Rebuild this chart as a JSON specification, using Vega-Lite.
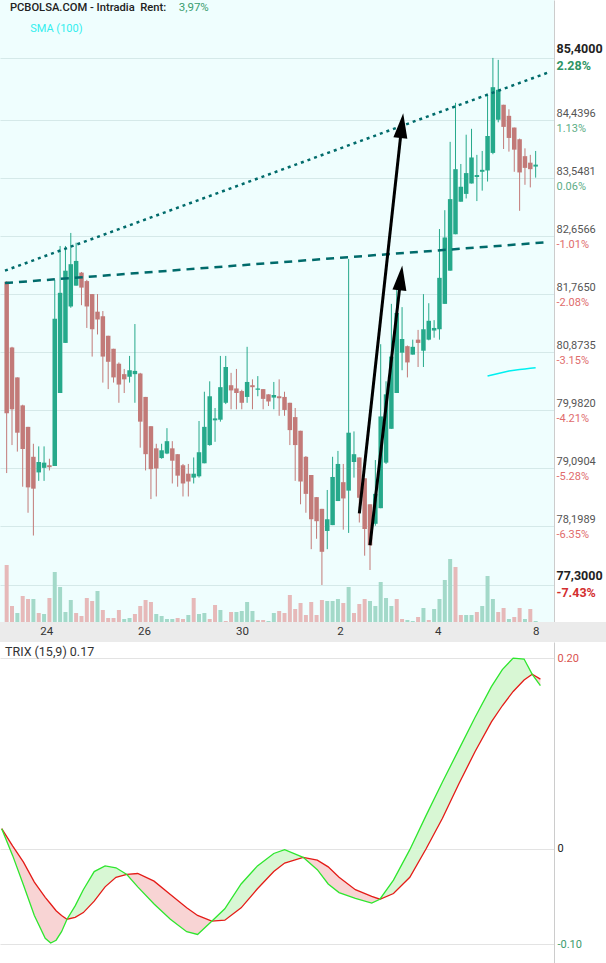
{
"$schema": "https://vega.github.io/schema/vega-lite/v6.json",
"padding": 0,
"spacing": 0,
"background": "white",
"config": {"view": {"stroke": null}, "font": "Roboto"},
"resolve": {"scale": {"x": "independent", "y": "independent"}},
"datasets": {
"candles": [
{"i":0,"o":81.96,"h":81.97,"l":79.02,"c":79.94,"v":57,"vc":"d"},
{"i":1,"o":80.95,"h":80.96,"l":79.45,"c":80.00,"v":16,"vc":"d"},
{"i":2,"o":80.49,"h":80.49,"l":79.35,"c":79.64,"v":9,"vc":"u"},
{"i":3,"o":80.06,"h":80.07,"l":78.81,"c":79.39,"v":26,"vc":"d"},
{"i":4,"o":79.73,"h":79.73,"l":78.41,"c":78.80,"v":23,"vc":"d"},
{"i":5,"o":79.27,"h":79.47,"l":78.06,"c":78.78,"v":23,"vc":"u"},
{"i":6,"o":79.03,"h":79.43,"l":78.90,"c":79.19,"v":9,"vc":"d"},
{"i":7,"o":79.10,"h":79.43,"l":78.90,"c":79.18,"v":8,"vc":"u"},
{"i":8,"o":79.14,"h":79.24,"l":79.06,"c":79.11,"v":24,"vc":"d"},
{"i":9,"o":79.13,"h":81.99,"l":79.13,"c":81.39,"v":50,"vc":"u"},
{"i":10,"o":80.25,"h":82.51,"l":80.25,"c":81.79,"v":35,"vc":"u"},
{"i":11,"o":81.02,"h":82.51,"l":81.02,"c":82.13,"v":10,"vc":"u"},
{"i":12,"o":81.58,"h":82.71,"l":81.56,"c":82.23,"v":22,"vc":"u"},
{"i":13,"o":81.90,"h":82.56,"l":81.90,"c":82.28,"v":9,"vc":"d"},
{"i":14,"o":82.10,"h":82.11,"l":81.60,"c":81.87,"v":6,"vc":"d"},
{"i":15,"o":81.97,"h":81.99,"l":81.25,"c":81.58,"v":24,"vc":"d"},
{"i":16,"o":81.77,"h":81.77,"l":80.81,"c":81.23,"v":21,"vc":"d"},
{"i":17,"o":81.50,"h":81.77,"l":81.15,"c":81.38,"v":31,"vc":"u"},
{"i":18,"o":81.43,"h":81.51,"l":80.41,"c":80.81,"v":12,"vc":"d"},
{"i":19,"o":81.13,"h":81.13,"l":80.31,"c":80.73,"v":4,"vc":"d"},
{"i":20,"o":80.93,"h":80.93,"l":80.41,"c":80.49,"v":4,"vc":"d"},
{"i":21,"o":80.70,"h":80.72,"l":80.10,"c":80.38,"v":12,"vc":"d"},
{"i":22,"o":80.54,"h":80.62,"l":80.25,"c":80.46,"v":3,"vc":"u"},
{"i":23,"o":80.50,"h":80.82,"l":80.41,"c":80.60,"v":4,"vc":"u"},
{"i":24,"o":80.54,"h":81.31,"l":80.10,"c":80.59,"v":8,"vc":"d"},
{"i":25,"o":80.55,"h":80.56,"l":79.41,"c":79.81,"v":16,"vc":"d"},
{"i":26,"o":80.19,"h":80.19,"l":79.06,"c":79.31,"v":22,"vc":"d"},
{"i":27,"o":79.74,"h":79.74,"l":78.62,"c":79.08,"v":20,"vc":"d"},
{"i":28,"o":79.40,"h":79.47,"l":78.66,"c":79.09,"v":8,"vc":"u"},
{"i":29,"o":79.25,"h":79.47,"l":79.24,"c":79.37,"v":6,"vc":"u"},
{"i":30,"o":79.32,"h":79.71,"l":79.31,"c":79.51,"v":3,"vc":"u"},
{"i":31,"o":79.40,"h":79.51,"l":78.86,"c":79.21,"v":3,"vc":"u"},
{"i":32,"o":79.31,"h":79.31,"l":78.81,"c":78.98,"v":4,"vc":"d"},
{"i":33,"o":79.14,"h":79.16,"l":78.66,"c":78.86,"v":3,"vc":"d"},
{"i":34,"o":79.01,"h":79.16,"l":78.66,"c":78.89,"v":7,"vc":"u"},
{"i":35,"o":78.95,"h":79.26,"l":78.86,"c":79.01,"v":24,"vc":"d"},
{"i":36,"o":78.97,"h":79.82,"l":78.95,"c":79.34,"v":8,"vc":"u"},
{"i":37,"o":79.17,"h":80.27,"l":79.17,"c":79.73,"v":9,"vc":"u"},
{"i":38,"o":79.45,"h":80.43,"l":79.44,"c":80.20,"v":3,"vc":"d"},
{"i":39,"o":79.83,"h":80.02,"l":79.50,"c":79.86,"v":17,"vc":"d"},
{"i":40,"o":79.84,"h":80.82,"l":79.81,"c":80.34,"v":12,"vc":"u"},
{"i":41,"o":80.10,"h":80.82,"l":80.08,"c":80.65,"v":1,"vc":"d"},
{"i":42,"o":80.37,"h":80.56,"l":80.00,"c":80.29,"v":10,"vc":"d"},
{"i":43,"o":80.32,"h":80.62,"l":80.00,"c":80.25,"v":10,"vc":"u"},
{"i":44,"o":80.28,"h":80.30,"l":80.00,"c":80.10,"v":11,"vc":"u"},
{"i":45,"o":80.19,"h":80.96,"l":80.10,"c":80.42,"v":20,"vc":"u"},
{"i":46,"o":80.37,"h":80.46,"l":80.00,"c":80.34,"v":11,"vc":"u"},
{"i":47,"o":80.30,"h":80.51,"l":80.20,"c":80.32,"v":2,"vc":"d"},
{"i":48,"o":80.31,"h":80.31,"l":80.00,"c":80.16,"v":2,"vc":"d"},
{"i":49,"o":80.23,"h":80.23,"l":80.05,"c":80.12,"v":1,"vc":"u"},
{"i":50,"o":80.18,"h":80.42,"l":80.00,"c":80.22,"v":9,"vc":"u"},
{"i":51,"o":80.20,"h":80.46,"l":79.90,"c":80.17,"v":11,"vc":"d"},
{"i":52,"o":80.19,"h":80.27,"l":79.90,"c":79.99,"v":9,"vc":"d"},
{"i":53,"o":80.10,"h":80.10,"l":79.45,"c":79.68,"v":27,"vc":"d"},
{"i":54,"o":79.88,"h":80.02,"l":78.90,"c":79.45,"v":13,"vc":"d"},
{"i":55,"o":79.67,"h":79.67,"l":78.54,"c":78.89,"v":19,"vc":"d"},
{"i":56,"o":79.27,"h":79.28,"l":78.41,"c":78.70,"v":7,"vc":"d"},
{"i":57,"o":78.99,"h":78.99,"l":77.85,"c":78.31,"v":20,"vc":"d"},
{"i":58,"o":78.65,"h":78.65,"l":78.01,"c":78.28,"v":7,"vc":"d"},
{"i":59,"o":78.47,"h":78.47,"l":77.30,"c":77.81,"v":22,"vc":"d"},
{"i":60,"o":78.13,"h":78.76,"l":77.85,"c":78.31,"v":21,"vc":"u"},
{"i":61,"o":78.22,"h":79.27,"l":78.22,"c":78.96,"v":21,"vc":"u"},
{"i":62,"o":78.59,"h":79.36,"l":78.59,"c":79.16,"v":23,"vc":"u"},
{"i":63,"o":78.88,"h":79.16,"l":78.15,"c":78.63,"v":19,"vc":"d"},
{"i":64,"o":78.75,"h":82.31,"l":78.10,"c":79.64,"v":35,"vc":"u"},
{"i":65,"o":79.19,"h":79.66,"l":78.95,"c":79.31,"v":9,"vc":"d"},
{"i":66,"o":79.26,"h":79.26,"l":78.26,"c":78.64,"v":18,"vc":"d"},
{"i":67,"o":78.94,"h":78.94,"l":77.75,"c":78.16,"v":23,"vc":"d"},
{"i":68,"o":78.54,"h":78.54,"l":77.53,"c":77.91,"v":21,"vc":"u"},
{"i":69,"o":78.24,"h":79.22,"l":78.21,"c":78.70,"v":16,"vc":"u"},
{"i":70,"o":78.48,"h":81.00,"l":78.48,"c":79.89,"v":40,"vc":"u"},
{"i":71,"o":79.18,"h":80.43,"l":79.16,"c":80.23,"v":24,"vc":"u"},
{"i":72,"o":79.70,"h":81.62,"l":79.70,"c":80.81,"v":16,"vc":"u"},
{"i":73,"o":80.25,"h":81.85,"l":80.25,"c":81.48,"v":23,"vc":"d"},
{"i":74,"o":80.87,"h":81.57,"l":80.60,"c":81.08,"v":3,"vc":"d"},
{"i":75,"o":80.97,"h":80.98,"l":80.49,"c":80.72,"v":2,"vc":"u"},
{"i":76,"o":80.84,"h":81.07,"l":80.84,"c":80.96,"v":1,"vc":"u"},
{"i":77,"o":81.07,"h":81.22,"l":80.65,"c":81.02,"v":5,"vc":"d"},
{"i":78,"o":80.90,"h":81.77,"l":80.65,"c":81.23,"v":14,"vc":"u"},
{"i":79,"o":81.07,"h":81.63,"l":81.06,"c":81.36,"v":2,"vc":"d"},
{"i":80,"o":81.21,"h":81.37,"l":81.10,"c":81.25,"v":13,"vc":"u"},
{"i":81,"o":81.23,"h":82.77,"l":81.07,"c":82.02,"v":23,"vc":"u"},
{"i":82,"o":81.62,"h":83.06,"l":81.62,"c":82.64,"v":42,"vc":"u"},
{"i":83,"o":82.13,"h":84.11,"l":82.13,"c":83.23,"v":63,"vc":"u"},
{"i":84,"o":82.69,"h":84.71,"l":82.69,"c":83.69,"v":55,"vc":"d"},
{"i":85,"o":83.19,"h":83.77,"l":83.19,"c":83.42,"v":7,"vc":"d"},
{"i":86,"o":83.31,"h":84.22,"l":83.24,"c":83.63,"v":7,"vc":"u"},
{"i":87,"o":83.47,"h":84.31,"l":83.47,"c":83.87,"v":7,"vc":"u"},
{"i":88,"o":83.57,"h":83.91,"l":83.20,"c":83.60,"v":10,"vc":"d"},
{"i":89,"o":83.65,"h":83.97,"l":83.36,"c":83.68,"v":16,"vc":"u"},
{"i":90,"o":83.67,"h":84.83,"l":83.50,"c":84.20,"v":46,"vc":"u"},
{"i":91,"o":83.94,"h":85.40,"l":83.92,"c":84.95,"v":23,"vc":"u"},
{"i":92,"o":84.45,"h":85.37,"l":84.41,"c":84.91,"v":10,"vc":"d"},
{"i":93,"o":84.68,"h":84.68,"l":84.00,"c":84.34,"v":14,"vc":"d"},
{"i":94,"o":84.51,"h":84.61,"l":83.96,"c":84.17,"v":3,"vc":"u"},
{"i":95,"o":84.33,"h":84.33,"l":83.65,"c":83.99,"v":5,"vc":"d"},
{"i":96,"o":84.15,"h":84.16,"l":83.05,"c":83.64,"v":14,"vc":"d"},
{"i":97,"o":83.89,"h":84.01,"l":83.45,"c":83.71,"v":3,"vc":"u"},
{"i":98,"o":83.79,"h":83.91,"l":83.41,"c":83.69,"v":13,"vc":"d"},
{"i":99,"o":83.73,"h":83.97,"l":83.56,"c":83.76,"v":1,"vc":"u"}
],
"trend": [
{"ln":"dot","i":-0.3125,"p":82.13},{"ln":"dot","i":101.5,"p":85.18},
{"ln":"dash","i":-0.3125,"p":81.94},{"ln":"dash","i":101.5,"p":82.57}
],
"arrows": [
{"a":"A","i":66.0,"p":78.40},{"a":"A","i":73.95,"p":84.36},
{"a":"B","i":68.0,"p":77.91},{"a":"B","i":73.77,"p":82.02}
],
"heads": [
{"a":"A","i":73.95,"p":84.36},{"a":"B","i":73.77,"p":82.02}
],
"sma": [
{"i":90,"p":80.51},{"i":91,"p":80.53},{"i":92,"p":80.55},{"i":93,"p":80.57},{"i":94,"p":80.59},
{"i":95,"p":80.60},{"i":96,"p":80.61},{"i":97,"p":80.62},{"i":98,"p":80.63},{"i":99,"p":80.64}
],
"dates": [
{"i":9,"d":"24"},{"i":27,"d":"26"},{"i":45,"d":"30"},{"i":63,"d":"2"},{"i":81,"d":"4"},{"i":99,"d":"8"}
],
"trix": [
{"i":0,"t":0.021,"s":0.021,"seg":1,"k":"r"},
{"i":2,"t":-0.007,"s":0.003,"seg":1,"k":"r"},
{"i":4,"t":-0.038,"s":-0.014,"seg":1,"k":"r"},
{"i":6,"t":-0.070,"s":-0.035,"seg":1,"k":"r"},
{"i":8,"t":-0.094,"s":-0.051,"seg":1,"k":"r"},
{"i":9,"t":-0.099,"s":-0.058,"seg":1,"k":"r"},
{"i":10,"t":-0.096,"s":-0.065,"seg":1,"k":"r"},
{"i":11,"t":-0.087,"s":-0.070,"seg":1,"k":"r"},
{"i":12,"t":-0.074,"s":-0.074,"seg":1,"k":"r"},
{"i":12,"t":-0.074,"s":-0.074,"seg":2,"k":"g"},
{"i":13.5,"t":-0.060,"s":-0.072,"seg":2,"k":"g"},
{"i":15,"t":-0.043,"s":-0.067,"seg":2,"k":"g"},
{"i":17,"t":-0.024,"s":-0.055,"seg":2,"k":"g"},
{"i":19,"t":-0.018,"s":-0.040,"seg":2,"k":"g"},
{"i":21,"t":-0.020,"s":-0.030,"seg":2,"k":"g"},
{"i":23,"t":-0.027,"s":-0.027,"seg":2,"k":"g"},
{"i":23,"t":-0.027,"s":-0.027,"seg":3,"k":"r"},
{"i":25,"t":-0.040,"s":-0.026,"seg":3,"k":"r"},
{"i":28,"t":-0.058,"s":-0.034,"seg":3,"k":"r"},
{"i":31,"t":-0.074,"s":-0.048,"seg":3,"k":"r"},
{"i":34,"t":-0.087,"s":-0.062,"seg":3,"k":"r"},
{"i":36,"t":-0.090,"s":-0.070,"seg":3,"k":"r"},
{"i":38.6,"t":-0.076,"s":-0.076,"seg":3,"k":"r"},
{"i":38.6,"t":-0.076,"s":-0.076,"seg":4,"k":"g"},
{"i":41,"t":-0.063,"s":-0.075,"seg":4,"k":"g"},
{"i":44,"t":-0.037,"s":-0.062,"seg":4,"k":"g"},
{"i":47,"t":-0.018,"s":-0.042,"seg":4,"k":"g"},
{"i":50,"t":-0.005,"s":-0.024,"seg":4,"k":"g"},
{"i":52,"t":-0.001,"s":-0.015,"seg":4,"k":"g"},
{"i":55.4,"t":-0.009,"s":-0.009,"seg":4,"k":"g"},
{"i":55.4,"t":-0.009,"s":-0.009,"seg":5,"k":"r"},
{"i":58,"t":-0.022,"s":-0.012,"seg":5,"k":"r"},
{"i":60,"t":-0.037,"s":-0.019,"seg":5,"k":"r"},
{"i":62,"t":-0.046,"s":-0.030,"seg":5,"k":"r"},
{"i":65,"t":-0.052,"s":-0.043,"seg":5,"k":"r"},
{"i":68,"t":-0.057,"s":-0.050,"seg":5,"k":"r"},
{"i":69.5,"t":-0.053,"s":-0.053,"seg":5,"k":"r"},
{"i":69.5,"t":-0.053,"s":-0.053,"seg":6,"k":"g"},
{"i":72,"t":-0.033,"s":-0.047,"seg":6,"k":"g"},
{"i":75,"t":-0.001,"s":-0.030,"seg":6,"k":"g"},
{"i":78,"t":0.035,"s":0.000,"seg":6,"k":"g"},
{"i":81,"t":0.070,"s":0.032,"seg":6,"k":"g"},
{"i":84,"t":0.104,"s":0.068,"seg":6,"k":"g"},
{"i":87,"t":0.138,"s":0.102,"seg":6,"k":"g"},
{"i":90,"t":0.170,"s":0.133,"seg":6,"k":"g"},
{"i":92,"t":0.188,"s":0.150,"seg":6,"k":"g"},
{"i":94,"t":0.200,"s":0.165,"seg":6,"k":"g"},
{"i":96,"t":0.199,"s":0.177,"seg":6,"k":"g"},
{"i":97.5,"t":0.183,"s":0.183,"seg":6,"k":"g"},
{"i":97.5,"t":0.183,"s":0.183,"seg":7,"k":"r"},
{"i":99,"t":0.171,"s":0.178,"seg":7,"k":"r"}
]
},
"vconcat": [
{
"width": 554, "height": 622,
"view": {"fill": "#effefe", "stroke": null},
"resolve": {"scale": {"y": "independent"}, "axis": {"y": "independent"}},
"layer": [
{"data": {"name": "candles"},
 "mark": {"type": "bar", "width": 4, "clip": true},
 "encoding": {
  "x": {"field": "i", "type": "quantitative", "scale": {"domain": [-0.3125, 101.5], "nice": false, "zero": false},
        "axis": {"values": [9, 27, 45, 63, 81, 99], "labels": false, "ticks": false, "domain": false, "grid": true, "gridColor": "#d5e9e9", "title": null}},
  "y": {"field": "v", "type": "quantitative", "scale": {"domain": [0, 622], "nice": false}, "axis": null},
  "color": {"condition": {"test": "datum.vc == 'u'", "value": "#a3d9c9"}, "value": "#e6b9b9"}
 }},
{"data": {"name": "candles"},
 "mark": {"type": "rule", "strokeWidth": 1, "clip": true},
 "encoding": {
  "x": {"field": "i", "type": "quantitative", "axis": null},
  "y": {"field": "l", "type": "quantitative", "scale": {"domain": [76.731, 86.29], "nice": false, "zero": false},
        "axis": {"orient": "right", "values": [77.3, 78.1989, 79.0904, 79.982, 80.8735, 81.765, 82.6566, 83.5481, 84.4396, 85.4],
                 "labelExpr": "replace(format(datum.value, '.4f'), '.', ',')",
                 "labelBaseline": "bottom", "labelOffset": -2, "labelPadding": 2, "labelAlign": "left",
                 "labelFontSize": {"condition": {"test": "datum.value > 85.39 || datum.value < 77.31", "value": 12.5}, "value": 11},
                 "labelFontWeight": {"condition": {"test": "datum.value > 85.39 || datum.value < 77.31", "value": "bold"}, "value": "normal"},
                 "labelColor": {"condition": {"test": "datum.value > 85.39 || datum.value < 77.31", "value": "#222222"}, "value": "#555555"},
                 "labelOverlap": false, "ticks": false, "domain": true, "domainColor": "#cccccc", "grid": true, "gridColor": "#d5e9e9", "title": null}},
  "y2": {"field": "h"},
  "color": {"condition": {"test": "datum.c >= datum.o", "value": "#26a98b"}, "value": "#c27a78"}
 }},
{"data": {"name": "candles"},
 "mark": {"type": "bar", "width": 4.5, "clip": true},
 "encoding": {
  "x": {"field": "i", "type": "quantitative", "axis": null},
  "y": {"field": "o", "type": "quantitative", "scale": {"domain": [76.731, 86.29], "nice": false, "zero": false},
        "axis": {"orient": "right", "values": [83.5481, 84.4396, 85.4],
                 "labelExpr": "format((datum.value / 83.5 - 1) * 100, '.2f') + '%'",
                 "labelBaseline": "top", "labelOffset": 2, "labelPadding": 2, "labelAlign": "left",
                 "labelFontSize": {"condition": {"test": "datum.value > 85.39", "value": 12.5}, "value": 11},
                 "labelFontWeight": {"condition": {"test": "datum.value > 85.39", "value": "bold"}, "value": "normal"},
                 "labelColor": {"condition": {"test": "datum.value > 85.39", "value": "#2e9465"}, "value": "#5cad86"},
                 "labelOverlap": false, "ticks": false, "domain": false, "grid": false, "title": null}},
  "y2": {"field": "c"},
  "color": {"condition": {"test": "datum.c >= datum.o", "value": "#26a98b"}, "value": "#c27a78"}
 }},
{"data": {"name": "trend"},
 "transform": [{"filter": "datum.ln == 'dot'"}],
 "mark": {"type": "line", "color": "#006b6b", "strokeWidth": 2.5, "strokeDash": [3, 4], "clip": true},
 "encoding": {
  "x": {"field": "i", "type": "quantitative", "axis": null},
  "y": {"field": "p", "type": "quantitative", "scale": {"domain": [76.731, 86.29], "nice": false, "zero": false}, "axis": null}
 }},
{"data": {"name": "trend"},
 "transform": [{"filter": "datum.ln == 'dash'"}],
 "mark": {"type": "line", "color": "#006b6b", "strokeWidth": 2.5, "strokeDash": [8, 6], "clip": true},
 "encoding": {
  "x": {"field": "i", "type": "quantitative", "axis": null},
  "y": {"field": "p", "type": "quantitative", "scale": {"domain": [76.731, 86.29], "nice": false, "zero": false}, "axis": null}
 }},
{"data": {"name": "sma"},
 "mark": {"type": "line", "color": "#00f0f0", "strokeWidth": 1.5},
 "encoding": {
  "x": {"field": "i", "type": "quantitative", "axis": null},
  "y": {"field": "p", "type": "quantitative", "scale": {"domain": [76.731, 86.29], "nice": false, "zero": false},
        "axis": {"orient": "right", "values": [77.3, 78.1989, 79.0904, 79.982, 80.8735, 81.765, 82.6566],
                 "labelExpr": "replace(format((datum.value / 83.5 - 1) * 100, '.2f'), '\u2212', '-') + '%'",
                 "labelBaseline": "top", "labelOffset": 2, "labelPadding": 2, "labelAlign": "left",
                 "labelFontSize": {"condition": {"test": "datum.value < 77.31", "value": 12.5}, "value": 11},
                 "labelFontWeight": {"condition": {"test": "datum.value < 77.31", "value": "bold"}, "value": "normal"},
                 "labelColor": {"condition": {"test": "datum.value < 77.31", "value": "#d32f2f"}, "value": "#e06c6c"},
                 "labelOverlap": false, "ticks": false, "domain": false, "grid": false, "title": null}}
 }},
{"data": {"name": "arrows"},
 "mark": {"type": "line", "color": "black", "strokeWidth": 3},
 "encoding": {
  "x": {"field": "i", "type": "quantitative", "axis": null},
  "y": {"field": "p", "type": "quantitative", "scale": {"domain": [76.731, 86.29], "nice": false, "zero": false}, "axis": null},
  "detail": {"field": "a"}
 }},
{"data": {"name": "heads"},
 "mark": {"type": "point", "shape": "M0,-1L0.56,1L-0.56,1Z", "filled": true, "size": 625, "angle": 6.5, "color": "black", "opacity": 1, "strokeWidth": 0},
 "encoding": {
  "x": {"field": "i", "type": "quantitative", "axis": null},
  "y": {"field": "p", "type": "quantitative", "scale": {"domain": [76.731, 86.29], "nice": false, "zero": false}, "axis": null}
 }},
{"data": {"values": [{}]},
 "mark": {"type": "text", "align": "left", "baseline": "middle", "fontSize": 11.2, "fontWeight": 500, "color": "#222222"},
 "encoding": {
  "x": {"datum": 0.6, "type": "quantitative", "axis": null},
  "y": {"datum": 86.167, "type": "quantitative", "scale": {"domain": [76.731, 86.29], "nice": false, "zero": false}, "axis": null},
  "text": {"value": "PCBOLSA.COM - Intradia\u00a0\u00a0Rent:"}
 }},
{"data": {"values": [{}]},
 "mark": {"type": "text", "align": "left", "baseline": "middle", "fontSize": 11.5, "color": "#3a9d6f"},
 "encoding": {
  "x": {"datum": 32.2, "type": "quantitative", "axis": null},
  "y": {"datum": 86.167, "type": "quantitative", "scale": {"domain": [76.731, 86.29], "nice": false, "zero": false}, "axis": null},
  "text": {"value": "3,97%"}
 }},
{"data": {"values": [{}]},
 "mark": {"type": "text", "align": "left", "baseline": "middle", "fontSize": 11, "color": "#33eeee"},
 "encoding": {
  "x": {"datum": 4.41, "type": "quantitative", "axis": null},
  "y": {"datum": 85.84, "type": "quantitative", "scale": {"domain": [76.731, 86.29], "nice": false, "zero": false}, "axis": null},
  "text": {"value": "SMA (100)"}
 }}
]
},
{
"width": 606, "height": 20,
"view": {"fill": "#ebebeb", "stroke": null},
"data": {"name": "dates"},
"mark": {"type": "text", "dx": -4, "fontSize": 11.5, "color": "#333333", "baseline": "middle"},
"encoding": {
 "x": {"field": "i", "type": "quantitative", "scale": {"domain": [-0.3125, 111.08], "nice": false, "zero": false}, "axis": null},
 "text": {"field": "d"}
}
},
{
"width": 554, "height": 321,
"view": {"fill": "white", "stroke": null},
"resolve": {"scale": {"y": "independent"}, "axis": {"y": "independent"}},
"layer": [
{"data": {"name": "trix"},
 "mark": {"type": "area", "clip": true},
 "encoding": {
  "x": {"field": "i", "type": "quantitative", "scale": {"domain": [-0.3125, 101.5], "nice": false, "zero": false},
        "axis": {"values": [9, 27, 45, 63, 81, 99], "labels": false, "ticks": false, "domain": false, "grid": true, "gridColor": "#e3e3e3", "title": null}},
  "y": {"field": "t", "type": "quantitative", "scale": {"domain": [-0.1199, 0.2169], "nice": false, "zero": false}, "axis": null},
  "y2": {"field": "s"},
  "detail": {"field": "seg"},
  "color": {"condition": {"test": "datum.k == 'g'", "value": "#d8f7d4"}, "value": "#f8d4d4"}
 }},
{"data": {"name": "trix"},
 "mark": {"type": "line", "color": "#e41b17", "strokeWidth": 1.3, "clip": true},
 "encoding": {
  "x": {"field": "i", "type": "quantitative", "axis": null},
  "y": {"field": "s", "type": "quantitative", "scale": {"domain": [-0.1199, 0.2169], "nice": false, "zero": false},
        "axis": {"orient": "right", "values": [-0.1, 0.2],
                 "labelExpr": "replace(format(datum.value, '.2f'), '\u2212', '-')",
                 "labelPadding": 3, "labelAlign": "left", "labelBaseline": "middle", "labelFontSize": 11,
                 "labelColor": {"condition": {"test": "datum.value > 0", "value": "#d9534f"}, "value": "#3c9a6c"},
                 "ticks": false, "domain": true, "domainColor": "#cccccc", "grid": true, "gridColor": "#e3e3e3", "title": null}}
 }},
{"data": {"name": "trix"},
 "mark": {"type": "line", "color": "#2ee62e", "strokeWidth": 1.3, "clip": true},
 "encoding": {
  "x": {"field": "i", "type": "quantitative", "axis": null},
  "y": {"field": "t", "type": "quantitative", "scale": {"domain": [-0.1199, 0.2169], "nice": false, "zero": false},
        "axis": {"orient": "right", "values": [0], "labelExpr": "'0'",
                 "labelPadding": 3, "labelAlign": "left", "labelBaseline": "middle", "labelFontSize": 11, "labelColor": "#222222",
                 "ticks": false, "domain": false, "grid": true, "gridColor": "#e3e3e3", "title": null}}
 }},
{"data": {"values": [{}]},
 "mark": {"type": "text", "align": "left", "baseline": "middle", "fontSize": 12.5, "color": "#333333"},
 "encoding": {
  "x": {"datum": 0.6, "type": "quantitative", "axis": null},
  "y": {"datum": 0.2064, "type": "quantitative", "scale": {"domain": [-0.1199, 0.2169], "nice": false, "zero": false}, "axis": null},
  "text": {"value": "TRIX (15,9) 0.17"}
 }}
]
}
]
}
